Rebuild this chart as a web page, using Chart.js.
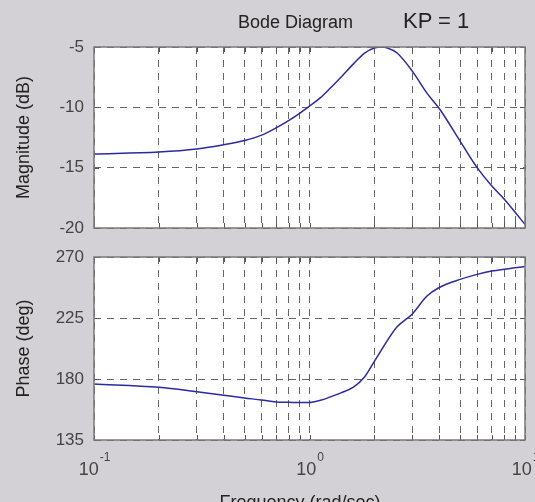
<!DOCTYPE html>
<html>
<head>
<meta charset="utf-8">
<script src="https://cdn.jsdelivr.net/npm/chart.js@4.4.1/dist/chart.umd.min.js"></script>
<style>
  html, body { margin: 0; padding: 0; }
  body { width: 535px; height: 502px; background: #d4d1d6; position: relative; overflow: hidden;
         font-family: "Liberation Sans", Arial, sans-serif; }
  .box { position: absolute; left: 0; width: 535px; }
  #magBox { top: 0; height: 240px; }
  #phaseBox { top: 240px; height: 262px; }
  .txt { position: absolute; color: #222; white-space: nowrap; line-height: 1; }
  #title { left: 238px; top: 13px; font-size: 18px; }
  #kp { left: 403px; top: 10px; font-size: 22px; }
  #xlabel { left: 0; width: 600px; text-align: center; top: 493px; font-size: 18px; }
</style>
</head>
<body>
<div class="box" id="magBox"><canvas id="magChart"></canvas></div>
<div class="box" id="phaseBox"><canvas id="phaseChart"></canvas></div>
<div class="txt" id="title">Bode Diagram</div>
<div class="txt" id="kp">KP = 1</div>
<div class="txt" id="xlabel">Frequency (rad/sec)</div>
<script>
// Data
const freq = [0.1, 0.2, 0.3, 0.4, 0.5, 0.6, 0.7, 0.8, 0.9, 1.0, 1.125, 1.25, 1.4, 1.6, 1.8,
              2.0, 2.15, 2.3, 2.55, 3.0, 3.5, 4.0, 5.0, 6.0, 7.0, 8.0, 9.0, 10];
const magnitude = [-13.86, -13.7, -13.45, -13.1, -12.75, -12.3, -11.7, -11.1, -10.5, -9.9, -9.2, -8.4, -7.5, -6.4, -5.5,
                   -5.08, -5.0, -5.08, -5.5, -7.0, -8.8, -10.1, -12.8, -15.0, -16.5, -17.6, -18.7, -19.7];
const phase = [176.3, 173.9, 170.6, 168, 166, 164.5, 163, 162.8, 162.6, 162.6, 164.3, 166.8, 169.8, 174, 181.5,
               193, 201, 208.5, 218.5, 228, 241, 247.5, 253.5, 257.2, 259.6, 261, 262, 263];

const xGridValues = [0.1, 0.2, 0.3, 0.4, 0.5, 0.6, 0.7, 0.8, 0.9, 1,
                     2, 3, 4, 5, 6, 7, 8, 9, 10];
const xTickLabels = [
    { value: 0.1, base: '10', exp: '-1' },
    { value: 1, base: '10', exp: '0' },
    { value: 10, base: '10', exp: '1' }
];
const magTicks = [-20, -15, -10, -5];
const phaseTicks = [135, 180, 225, 270];

const lineColor = '#2b2b9e';
const gridColor = '#666666';
const frameColor = '#7a7a7a';

// white plot area, frame and little inner tick marks
const plotFrame = {
    id: 'plotFrame',
    beforeDraw(chart) {
        const { ctx, chartArea: a } = chart;
        ctx.save();
        ctx.fillStyle = '#ffffff';
        ctx.fillRect(a.left, a.top, a.right - a.left, a.bottom - a.top);
        ctx.restore();
    },
    afterDatasetsDraw(chart) {
        const { ctx, chartArea: a, scales } = chart;
        ctx.save();
        ctx.strokeStyle = '#555';
        ctx.lineWidth = 1;
        ctx.beginPath();
        xGridValues.forEach(v => {
            const x = Math.round(scales.x.getPixelForValue(v)) + 0.5;
            ctx.moveTo(x, a.top); ctx.lineTo(x, a.top + 5);
            ctx.moveTo(x, a.bottom); ctx.lineTo(x, a.bottom - 5);
        });
        scales.y.ticks.forEach(t => {
            const y = Math.round(scales.y.getPixelForValue(t.value)) + 0.5;
            ctx.moveTo(a.left, y); ctx.lineTo(a.left + 5, y);
            ctx.moveTo(a.right, y); ctx.lineTo(a.right - 5, y);
        });
        ctx.stroke();
        ctx.strokeStyle = frameColor;
        ctx.lineWidth = 1.5;
        ctx.strokeRect(a.left, a.top, a.right - a.left, a.bottom - a.top);
        ctx.restore();
    }
};

// 10^n labels under the phase plot
const decadeLabels = {
    id: 'decadeLabels',
    afterDraw(chart) {
        const { ctx, chartArea: a, scales } = chart;
        ctx.save();
        ctx.fillStyle = '#444';
        ctx.textBaseline = 'alphabetic';
        ctx.textAlign = 'left';
        xTickLabels.forEach(t => {
            ctx.font = '18px "Liberation Sans", Arial, sans-serif';
            const wb = ctx.measureText(t.base).width;
            ctx.font = '12px "Liberation Sans", Arial, sans-serif';
            const we = ctx.measureText(t.exp).width;
            const x0 = scales.x.getPixelForValue(t.value) - (wb + we) / 2;
            ctx.font = '18px "Liberation Sans", Arial, sans-serif';
            ctx.fillText(t.base, x0, a.bottom + 35);
            ctx.font = '12px "Liberation Sans", Arial, sans-serif';
            ctx.fillText(t.exp, x0 + wb + 1, a.bottom + 21);
        });
        ctx.restore();
    }
};

function makeChart(canvasId, values, yTicks, yTitle, padding, extraPlugins) {
    const ctx = document.getElementById(canvasId).getContext('2d');
    return new Chart(ctx, {
        type: 'line',
        data: {
            datasets: [{
                data: freq.map((f, i) => ({ x: f, y: values[i] })),
                borderColor: lineColor,
                borderWidth: 1.5,
                pointRadius: 0,
                cubicInterpolationMode: 'monotone',
                fill: false
            }]
        },
        options: {
            responsive: true,
            maintainAspectRatio: false,
            animation: false,
            layout: { padding: padding },
            plugins: { legend: { display: false }, tooltip: { enabled: false }, title: { display: false } },
            scales: {
                x: {
                    type: 'logarithmic',
                    min: 0.1,
                    max: 10,
                    afterBuildTicks: s => { s.ticks = xGridValues.map(v => ({ value: v })); },
                    afterFit: s => { s.height = 0; s.paddingLeft = 0; s.paddingRight = 0; },
                    ticks: { display: false },
                    grid: { color: gridColor, lineWidth: 1, drawTicks: false },
                    border: { display: false, dash: [7, 6] }
                },
                y: {
                    min: yTicks[0],
                    max: yTicks[yTicks.length - 1],
                    afterBuildTicks: s => { s.ticks = yTicks.map(v => ({ value: v })); },
                    afterFit: s => { s.width = 94; s.paddingTop = 0; s.paddingBottom = 0; },
                    ticks: {
                        color: '#444',
                        padding: 10,
                        font: { family: '"Liberation Sans", Arial, sans-serif', size: 17 }
                    },
                    grid: { color: gridColor, lineWidth: 1, drawTicks: false },
                    border: { display: false, dash: [7, 6] },
                    title: {
                        display: true,
                        text: yTitle,
                        color: '#222',
                        padding: { top: 13, bottom: 0 },
                        font: { family: '"Liberation Sans", Arial, sans-serif', size: 18 }
                    }
                }
            }
        },
        plugins: [plotFrame].concat(extraPlugins)
    });
}

makeChart('magChart', magnitude, magTicks, 'Magnitude (dB)',
    { left: 0, right: 10, top: 47, bottom: 12 }, []);
makeChart('phaseChart', phase, phaseTicks, 'Phase (deg)',
    { left: 0, right: 10, top: 17, bottom: 62 }, [decadeLabels]);
</script>
</body>
</html>
